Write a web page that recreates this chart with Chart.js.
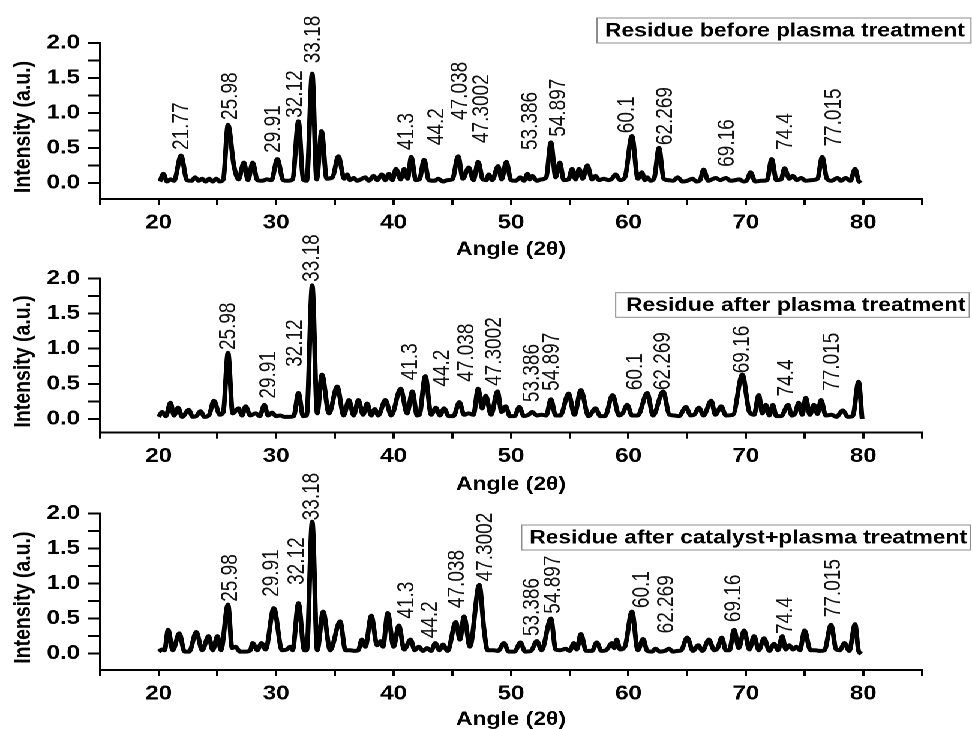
<!DOCTYPE html>
<html><head><meta charset="utf-8">
<script src="https://cdn.jsdelivr.net/npm/chart.js@4.4.0/dist/chart.umd.min.js"></script>
<style>
html,body{margin:0;padding:0;background:#fff;overflow:hidden;width:972px;height:729px;}
#wrap{position:absolute;left:0;top:0;width:810px;height:729px;transform:scaleX(1.2);transform-origin:0 0;}
canvas{position:absolute;left:0;}
</style></head><body>
<div id="wrap">
<canvas id="c1" width="810" height="262" style="top:0px;width:810px;height:262px"></canvas>
<canvas id="c2" width="810" height="277" style="top:220px;width:810px;height:277px"></canvas>
<canvas id="c3" width="810" height="272" style="top:460px;width:810px;height:272px"></canvas>
</div>
<script>
// ---------- DATA ----------
const xTickValues = [15,20,25,30,35,40,45,50,55,60,65,70,75,80,85];
const yTickValues = [0,0.25,0.5,0.75,1,1.25,1.5,1.75,2];
const xTitle = 'Angle (2θ)';
const yTitle = 'Intensity (a.u.)';

// Panel 1: Residue before plasma treatment
const title1 = 'Residue before plasma treatment';
const angle1 = [20.1,20.4,20.7,21.0,21.3,21.9,22.4,22.8,23.1,23.4,23.7,24.0,24.3,24.6,24.9,25.2,25.5,25.9,26.4,26.8,27.25,27.6,28.0,28.4,28.8,29.2,29.6,30.1,30.6,31.0,31.4,31.9,32.3,32.6,33.07,33.45,33.87,34.3,34.8,35.3,35.8,36.05,36.3,36.6,36.9,37.2,37.6,37.9,38.3,38.6,39.0,39.3,39.6,39.9,40.2,40.6,40.9,41.2,41.5,41.9,42.2,42.6,43.0,43.5,43.8,44.2,44.6,45.0,45.5,45.9,46.4,46.8,47.2,47.6,47.9,48.1,48.4,48.9,49.2,49.6,50.0,50.4,50.8,51.1,51.4,51.6,51.8,52.2,52.6,53.0,53.4,53.8,54.15,54.5,54.9,55.2,55.5,55.8,56.1,56.5,56.9,57.2,57.5,57.9,58.3,58.6,58.9,59.3,59.7,60.3,60.8,61.15,61.4,61.6,61.9,62.2,62.6,63.0,63.4,63.8,64.2,64.6,65.0,65.45,65.8,66.1,66.4,66.8,67.1,67.45,67.8,68.3,68.7,69.1,69.45,69.8,70.1,70.4,70.8,71.3,71.8,72.2,72.6,73.0,73.3,73.7,74.0,74.35,74.7,75.1,75.6,76.1,76.5,76.9,77.3,77.8,78.1,78.5,78.9,79.3,79.6,79.8];
const inten1 = [0.02,0.13,0.02,0.05,0.03,0.39,0.04,0.03,0.08,0.03,0.06,0.02,0.06,0.02,0.06,0.02,0.05,0.83,0.25,0.05,0.29,0.04,0.29,0.04,0.03,0.05,0.04,0.34,0.04,0.03,0.05,0.88,0.05,0.03,1.56,0.05,0.74,0.06,0.08,0.38,0.06,0.12,0.04,0.07,0.03,0.05,0.08,0.03,0.10,0.04,0.12,0.04,0.13,0.04,0.20,0.05,0.20,0.06,0.37,0.04,0.05,0.33,0.04,0.03,0.06,0.02,0.04,0.05,0.38,0.06,0.22,0.04,0.30,0.05,0.04,0.12,0.04,0.24,0.05,0.30,0.04,0.03,0.08,0.03,0.13,0.05,0.10,0.03,0.05,0.08,0.58,0.08,0.29,0.04,0.05,0.20,0.05,0.20,0.06,0.25,0.05,0.10,0.04,0.06,0.04,0.06,0.12,0.04,0.08,0.67,0.06,0.15,0.04,0.08,0.03,0.07,0.50,0.06,0.04,0.03,0.08,0.02,0.03,0.06,0.02,0.04,0.19,0.03,0.05,0.07,0.04,0.07,0.03,0.04,0.05,0.02,0.04,0.15,0.02,0.03,0.04,0.34,0.04,0.05,0.21,0.06,0.10,0.04,0.07,0.03,0.04,0.06,0.37,0.06,0.03,0.07,0.03,0.07,0.03,0.20,0.03,0.00];
const peakText1 = ['21.77','25.98','29.91','32.12','33.18','41.3','44.2','47.038','47.3002','53.386','54.897','60.1','62.269','69.16','74.4','77.015'];
const peakX1 = [21.99,26.11,29.8,31.65,33.2,41.17,43.73,45.72,47.56,51.69,54.1,59.92,63.2,68.45,73.37,77.55];
const peakY1 = [0.47,0.9,0.43,0.93,1.71,0.47,0.54,0.9,0.57,0.47,0.66,0.71,0.54,0.23,0.47,0.52];

// Panel 2: Residue after plasma treatment
const title2 = 'Residue after plasma treatment';
const angle2 = [20.0,20.3,20.6,21.0,21.3,21.65,22.0,22.55,22.9,23.2,23.55,23.9,24.3,24.7,25.2,25.5,25.9,26.3,26.8,27.1,27.4,27.8,28.25,28.6,29.0,29.3,29.65,30.0,30.35,30.7,31.1,31.5,31.9,32.3,32.6,33.07,33.5,33.9,34.5,35.2,35.75,36.2,36.6,37.0,37.4,37.75,38.1,38.4,38.7,39.3,39.8,40.6,41.15,41.6,42.0,42.2,42.7,43.2,43.6,43.95,44.3,44.7,45.1,45.6,46.0,46.4,46.8,47.2,47.55,47.85,48.3,48.85,49.2,49.55,49.9,50.3,50.7,51.1,51.5,51.8,52.2,52.6,53.0,53.4,53.8,54.2,54.9,55.4,55.95,56.6,57.2,57.6,58.0,58.65,59.2,59.5,59.9,60.3,60.8,61.6,62.1,62.95,63.5,63.9,64.3,64.9,65.3,65.6,66.0,66.4,67.05,67.4,67.9,68.3,68.9,69.7,70.3,70.7,71.1,71.4,71.7,72.0,72.3,72.6,73.0,73.6,73.9,74.2,74.5,74.8,75.1,75.45,75.8,76.1,76.4,76.8,77.3,77.7,78.25,78.7,79.1,79.6,79.9];
const inten2 = [0.03,0.10,0.04,0.23,0.05,0.16,0.03,0.13,0.03,0.04,0.11,0.03,0.06,0.26,0.06,0.10,0.94,0.08,0.15,0.05,0.18,0.05,0.08,0.04,0.20,0.05,0.09,0.04,0.05,0.03,0.03,0.04,0.37,0.04,0.05,1.90,0.08,0.63,0.08,0.46,0.05,0.27,0.05,0.27,0.06,0.22,0.05,0.14,0.05,0.27,0.05,0.43,0.08,0.39,0.05,0.06,0.61,0.06,0.16,0.05,0.15,0.04,0.04,0.24,0.06,0.08,0.06,0.43,0.15,0.33,0.06,0.39,0.10,0.18,0.04,0.04,0.17,0.04,0.06,0.10,0.05,0.06,0.05,0.28,0.05,0.05,0.36,0.06,0.41,0.04,0.15,0.04,0.04,0.34,0.05,0.08,0.20,0.05,0.05,0.37,0.05,0.39,0.06,0.05,0.04,0.17,0.05,0.06,0.16,0.05,0.26,0.06,0.18,0.05,0.06,0.63,0.10,0.06,0.34,0.08,0.20,0.05,0.20,0.04,0.04,0.20,0.05,0.08,0.23,0.06,0.30,0.06,0.20,0.07,0.27,0.05,0.06,0.03,0.12,0.03,0.04,0.53,0.00];
const peakText2 = ['25.98','29.91','32.12','33.18','41.3','44.2','47.038','47.3002','53.386','54.897','60.1','62.269','69.16','74.4','77.015'];
const peakX2 = [25.97,29.38,31.65,33.07,41.46,44.15,46.28,48.6,51.83,53.5,60.6,62.95,69.7,73.5,77.4];
const peakY2 = [0.98,0.29,0.74,1.95,0.55,0.46,0.53,0.47,0.24,0.4,0.41,0.41,0.65,0.32,0.4];

// Panel 3: Residue after catalyst+plasma treatment
const title3 = 'Residue after catalyst+plasma treatment';
const angle3 = [20.0,20.3,20.5,20.8,21.2,21.75,22.2,22.6,23.2,23.7,24.25,24.6,25.0,25.3,25.9,26.25,26.55,26.9,27.4,27.8,28.0,28.4,28.75,29.1,29.8,30.5,30.9,31.2,31.4,31.9,32.4,32.6,33.07,33.5,34.0,34.6,35.45,35.9,36.3,36.7,37.0,37.3,37.6,38.1,38.6,38.9,39.1,39.5,40.0,40.45,40.9,41.45,41.8,42.15,42.5,42.85,43.2,43.55,43.9,44.2,44.6,45.3,45.65,46.0,46.5,47.3,47.7,48.0,48.5,48.9,49.4,49.8,50.3,50.8,51.2,51.7,52.2,52.6,53.4,53.8,54.2,54.65,55.0,55.35,55.6,55.95,56.4,56.9,57.3,57.7,58.1,58.6,58.8,59.0,59.3,59.7,60.3,60.8,61.25,61.6,62.0,62.3,62.7,63.1,63.45,63.8,64.2,64.5,65.0,65.5,65.95,66.3,66.85,67.3,67.6,67.95,68.3,68.6,69.0,69.4,69.85,70.3,70.7,71.1,71.55,72.0,72.4,72.75,73.1,73.4,73.7,74.0,74.3,74.6,75.0,75.5,75.9,76.3,76.7,77.25,77.7,78.0,78.4,78.8,79.3,79.6,79.85];
const inten3 = [0.03,0.06,0.05,0.34,0.05,0.29,0.03,0.03,0.31,0.05,0.25,0.05,0.25,0.05,0.70,0.08,0.10,0.03,0.03,0.05,0.15,0.05,0.15,0.06,0.65,0.05,0.06,0.10,0.05,0.72,0.05,0.05,1.88,0.05,0.60,0.05,0.46,0.05,0.05,0.04,0.05,0.20,0.10,0.54,0.12,0.18,0.10,0.58,0.10,0.40,0.06,0.20,0.05,0.10,0.04,0.08,0.04,0.15,0.05,0.13,0.04,0.45,0.20,0.53,0.10,0.98,0.35,0.05,0.05,0.04,0.15,0.03,0.03,0.16,0.03,0.04,0.18,0.05,0.50,0.06,0.05,0.07,0.04,0.15,0.06,0.28,0.04,0.04,0.16,0.04,0.05,0.15,0.08,0.20,0.06,0.10,0.60,0.05,0.21,0.04,0.03,0.07,0.03,0.04,0.07,0.03,0.04,0.05,0.23,0.04,0.12,0.04,0.20,0.05,0.08,0.23,0.05,0.05,0.34,0.08,0.33,0.06,0.25,0.05,0.22,0.04,0.14,0.05,0.25,0.06,0.12,0.06,0.10,0.05,0.33,0.05,0.05,0.04,0.05,0.41,0.06,0.05,0.15,0.04,0.42,0.04,0.00];
const peakText3 = ['25.98','29.91','32.12','33.18','41.3','44.2','47.038','47.3002','53.386','54.897','60.1','62.269','69.16','74.4','77.015'];
const peakX3 = [26.11,29.66,31.79,33.07,41.17,43.16,45.43,47.85,51.83,53.6,61.2,63.3,69.0,73.4,77.5];
const peakY3 = [0.74,0.81,0.98,1.9,0.5,0.22,0.65,1.03,0.25,0.57,0.65,0.29,0.45,0.28,0.52];

// ---------- RENDERING ----------
const SX = 1.2;  // horizontal stretch of the whole figure
const FONT = '"Liberation Sans", Arial, Helvetica, sans-serif';
Chart.defaults.font.family = FONT;
Chart.defaults.color = '#000';

function makeChart(id, top, angles, inten, pText, pX, pY, boxText, g) {
  const peakPlugin = {
    id: 'peaks_' + id,
    afterDatasetsDraw(chart) {
      const ctx = chart.ctx, xs = chart.scales.x, ys = chart.scales.y;
      const area = chart.chartArea;
      ctx.save();
      ctx.fillStyle = '#111';
      ctx.font = '19px ' + FONT;
      ctx.textAlign = 'left';
      ctx.textBaseline = 'middle';
      pText.forEach((t, i) => {
        const px = xs.getPixelForValue(pX[i]);
        const py = ys.getPixelForValue(pY[i]);
        ctx.save();
        ctx.translate(px, py);
        ctx.rotate(-Math.PI / 2);
        ctx.fillText(t, 0, 0);
        ctx.restore();
      });
      // y axis title
      ctx.save();
      ctx.fillStyle = '#000';
      ctx.font = 'bold 19.5px ' + FONT;
      ctx.textAlign = 'center';
      ctx.translate(19.5, (area.top + area.bottom) / 2 + 6);
      ctx.rotate(-Math.PI / 2);
      ctx.fillText(yTitle, 0, 0);
      ctx.restore();
      // legend box
      const bx = g.box[0] / SX, by = g.box[1] - top, bw = g.box[2] / SX, bh = g.box[3];
      ctx.strokeStyle = '#8c8c8c';
      ctx.lineWidth = 1;
      ctx.strokeRect(bx, by, bw, bh);
      ctx.fillStyle = '#000';
      ctx.font = 'bold 19px ' + FONT;
      ctx.textAlign = 'left';
      ctx.fillText(boxText, g.box[4] / SX, by + bh / 2 + 1);
      ctx.restore();
    }
  };
  return new Chart(document.getElementById(id), {
    type: 'line',
    data: {
      datasets: [{
        data: angles.map((a, i) => ({ x: a, y: inten[i] })),
        borderColor: '#000',
        borderWidth: 4,
        pointRadius: 0,
        fill: false,
        cubicInterpolationMode: 'monotone'
      }]
    },
    options: {
      responsive: false,
      animation: false,
      devicePixelRatio: 2,
      layout: { padding: { left: 0, right: 810 - 922 / SX, top: g.padT, bottom: 0 } },
      plugins: { legend: { display: false }, tooltip: { enabled: false } },
      scales: {
        x: {
          type: 'linear', min: 15, max: 85,
          afterBuildTicks: s => { s.ticks = xTickValues.map(v => ({ value: v })); },
          afterFit: s => { s.height = g.xh; },
          grid: { display: true, drawOnChartArea: false, drawTicks: true, tickLength: 6, tickWidth: 2, tickColor: '#000' },
          border: { display: true, color: '#000', width: 2 },
          ticks: { color: '#000', font: { size: 20, weight: 'bold' }, padding: 6, maxRotation: 0, autoSkip: false,
                   callback: v => (v % 10 === 0 ? String(v) : '') },
          title: { display: true, text: xTitle, color: '#000', font: { size: 19, weight: 'bold' }, padding: { top: 0, bottom: 0.6 } }
        },
        y: {
          type: 'linear', min: g.ymin, max: 2,
          afterBuildTicks: s => { s.ticks = yTickValues.map(v => ({ value: v })); },
          afterFit: s => { s.width = 100 / SX; },
          grid: { display: true, drawOnChartArea: false, drawTicks: true, tickLength: 10, tickWidth: 2, tickColor: '#000' },
          border: { display: true, color: '#000', width: 2 },
          ticks: { color: '#000', font: { size: 20, weight: 'bold' }, padding: 6.7, autoSkip: false,
                   callback: v => (Math.abs(v * 2 - Math.round(v * 2)) < 1e-9 ? Number(v).toFixed(1) : '') },
          title: { display: false }
        }
      }
    },
    plugins: [peakPlugin]
  });
}

makeChart('c1', 0, angle1, inten1, peakText1, peakX1, peakY1, title1,
  { padT: 43, xh: 63, ymin: -0.23, box: [597, 18, 374, 25, 605] });
makeChart('c2', 220, angle2, inten2, peakText2, peakX2, peakY2, title2,
  { padT: 58.3, xh: 64.3, ymin: -0.195, box: [615.7, 292.7, 353.6, 24.6, 626] });
makeChart('c3', 460, angle3, inten3, peakText3, peakX3, peakY3, title3,
  { padT: 53.3, xh: 62, ymin: -0.232, box: [521.7, 525, 449, 25, 529.3] });
</script>
</body></html>
